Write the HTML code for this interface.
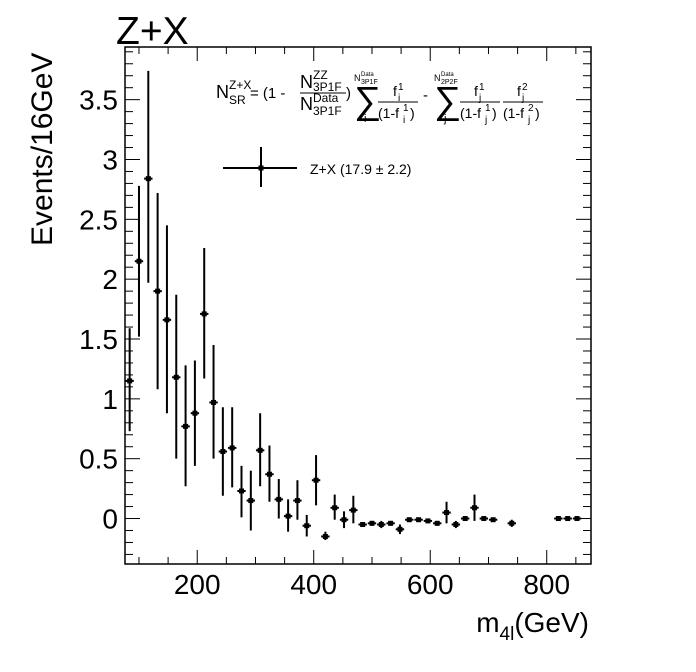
<!DOCTYPE html>
<html><head><meta charset="utf-8"><style>
html,body{margin:0;padding:0;background:#fff}
svg{display:block;font-family:"Liberation Sans",Arial,sans-serif}
</style></head><body>
<svg id="chart" width="696" height="672" viewBox="0 0 696 672" xmlns="http://www.w3.org/2000/svg">
<rect width="696" height="672" fill="#fff"/>
<text x="116" y="44" font-size="39">Z+X</text>
<text transform="translate(52,246) rotate(-90)" font-size="30">Events/16GeV</text>
<text x="589" y="632" font-size="28" text-anchor="end">m<tspan font-size="19" dy="8">4l</tspan><tspan dy="-8">(GeV)</tspan></text>
<g id="axes"></g>
<g id="marks"></g>
<g fill="#000">
<text x="216" y="98" font-size="18">N</text>
<text x="229" y="89" font-size="12">Z+X</text>
<text x="229" y="104" font-size="12">SR</text>
<text x="250" y="98" font-size="15">= (1 -</text>
<text x="300" y="88" font-size="18">N</text>
<text x="313" y="79" font-size="12">ZZ</text>
<text x="313" y="91" font-size="12">3P1F</text>
<line x1="300" y1="93" x2="346" y2="93" stroke="#000" stroke-width="1"/>
<text x="300" y="110" font-size="18">N</text>
<text x="313" y="102" font-size="12">Data</text>
<text x="313" y="115" font-size="12">3P1F</text>
<text x="346" y="98" font-size="15">)</text>
<text x="354" y="113" font-size="38">∑</text>
<text x="354" y="81" font-size="9">N</text>
<text x="361" y="76" font-size="6">Data</text>
<text x="361" y="84" font-size="7">3P1F</text>
<text x="364" y="122" font-size="11">i</text>
<text x="393" y="96" font-size="14">f</text>
<text x="398" y="90" font-size="10">1</text>
<text x="398" y="101" font-size="10">i</text>
<line x1="378" y1="102" x2="418" y2="102" stroke="#000" stroke-width="1"/>
<text x="378" y="118" font-size="14">(1-f</text>
<text x="403" y="111" font-size="10">1</text>
<text x="403" y="123" font-size="10">i</text>
<text x="410" y="118" font-size="14">)</text>
<text x="423" y="100" font-size="15">-</text>
<text x="434" y="113" font-size="38">∑</text>
<text x="434" y="81" font-size="9">N</text>
<text x="441" y="76" font-size="6">Data</text>
<text x="441" y="84" font-size="7">2P2F</text>
<text x="444" y="122" font-size="11">j</text>
<text x="474" y="96" font-size="14">f</text>
<text x="479" y="90" font-size="10">1</text>
<text x="479" y="101" font-size="10">j</text>
<line x1="460" y1="102" x2="500" y2="102" stroke="#000" stroke-width="1"/>
<text x="460" y="118" font-size="14">(1-f</text>
<text x="485" y="111" font-size="10">1</text>
<text x="485" y="123" font-size="10">j</text>
<text x="492" y="118" font-size="14">)</text>
<text x="517" y="96" font-size="14">f</text>
<text x="522" y="90" font-size="10">2</text>
<text x="522" y="101" font-size="10">j</text>
<line x1="503" y1="102" x2="543" y2="102" stroke="#000" stroke-width="1"/>
<text x="503" y="118" font-size="14">(1-f</text>
<text x="528" y="111" font-size="10">2</text>
<text x="528" y="123" font-size="10">j</text>
<text x="535" y="118" font-size="14">)</text>
</g>
<g>
<line x1="223" y1="168" x2="297" y2="168" stroke="#000" stroke-width="2"/>
<line x1="261" y1="147" x2="261" y2="187" stroke="#000" stroke-width="2"/>
<rect x="258.5" y="165.5" width="5" height="5" fill="#000"/>
<text x="310" y="174" font-size="14">Z+X (17.9 ± 2.2)</text>
</g>
</svg>
<script>
const binCenters = [84,100,116,132,148,164,180,196,212,228,244,260,276,292,308,324,340,356,372,388,404,420,436,452,468,484,500,516,532,548,564,580,596,612,628,644,660,676,692,708,724,740,756,772,788,804,820,836,852,868];
const values = [1.15,2.15,2.84,1.90,1.66,1.18,0.77,0.88,1.71,0.97,0.56,0.59,0.23,0.15,0.57,0.37,0.16,0.02,0.15,-0.06,0.32,-0.15,0.09,-0.01,0.07,-0.05,-0.04,-0.05,-0.04,-0.09,-0.01,-0.01,-0.02,-0.04,0.05,-0.05,0.0,0.09,0.0,-0.01,null,-0.04,null,null,null,null,0,0,0,null];
const errHigh = [1.59,2.78,3.74,2.72,2.45,1.87,1.28,1.32,2.26,1.45,0.93,0.93,0.44,0.40,0.88,0.61,0.33,0.16,0.32,0.03,0.53,-0.11,0.20,0.06,0.19,-0.03,-0.02,-0.02,-0.02,-0.05,0.0,0.0,-0.01,-0.02,0.14,-0.02,0.01,0.20,0.01,0.0,null,-0.01,null,null,null,null,0,0,0,null];
const errLow = [0.73,1.52,1.97,1.08,0.88,0.50,0.27,0.44,1.17,0.50,0.19,0.26,0.01,-0.10,0.27,0.14,0.0,-0.11,-0.01,-0.15,0.11,-0.18,-0.01,-0.08,-0.04,-0.07,-0.06,-0.08,-0.06,-0.13,-0.02,-0.02,-0.03,-0.06,-0.04,-0.08,-0.01,-0.02,-0.01,-0.02,null,-0.07,null,null,null,null,0,0,0,null];
const xTickLabels = [200,400,600,800];
const yTickLabels = [0,0.5,1,1.5,2,2.5,3,3.5];

const L=125,R=591,T=47,B=564, XMIN=76, XMAX=876, YMIN=-0.38, YMAX=3.94, BINW=16;
const sx=v=>L+(v-XMIN)/(XMAX-XMIN)*(R-L);
const sy=v=>B-(v-YMIN)/(YMAX-YMIN)*(B-T);
const NS='http://www.w3.org/2000/svg';
function mk(tag,attrs,parent){const e=document.createElementNS(NS,tag);for(const k in attrs)e.setAttribute(k,attrs[k]);parent.appendChild(e);return e;}
const axes=document.getElementById('axes');
const frame=mk('rect',{x:L,y:T,width:R-L,height:B-T,fill:'none',stroke:'#000','stroke-width':1.5},axes);


for(let v=100;v<=850;v+=50){
  const major=(v%200===0); const len=major?14:7; const x=sx(v);
  const t1=mk('line',{x1:x,y1:B,x2:x,y2:B-len,stroke:'#000','stroke-width':1},axes);
  
  
  const t2=mk('line',{x1:x,y1:T,x2:x,y2:T+len,stroke:'#000','stroke-width':1},axes);
  
  
}
xTickLabels.forEach(v=>{
  const t=mk('text',{x:sx(v),y:594,'font-size':28,'text-anchor':'middle'},axes);
  t.textContent=v;
  
  
});
for(let i=-3;i<=39;i++){
  const v=i/10; const major=(i%5===0); const len=major?15:8; const y=sy(v);
  const t1=mk('line',{x1:L,y1:y,x2:L+len,y2:y,stroke:'#000','stroke-width':1},axes);
  
  
  const t2=mk('line',{x1:R,y1:y,x2:R-len,y2:y,stroke:'#000','stroke-width':1},axes);
  
  
}
yTickLabels.forEach(v=>{
  const t=mk('text',{x:118,y:sy(v)+10,'font-size':28,'text-anchor':'end'},axes);
  t.textContent=String(v);
  
  
});
const marks=document.getElementById('marks');
binCenters.forEach((c,i)=>{
  const v=values[i]; if(v===null) return;
  const x=sx(c), y=sy(v);
  const g=mk('g',{},marks);
  
  
  mk('line',{x1:x,y1:sy(errHigh[i]),x2:x,y2:sy(errLow[i]),stroke:'#000','stroke-width':2},g);
  mk('line',{x1:sx(c-BINW*0.45),y1:y,x2:sx(c+BINW*0.45),y2:y,stroke:'#000','stroke-width':2},g);
  mk('rect',{x:x-2.5,y:y-2.5,width:5,height:5,fill:'#000'},g);
});
</script>
</body></html>
